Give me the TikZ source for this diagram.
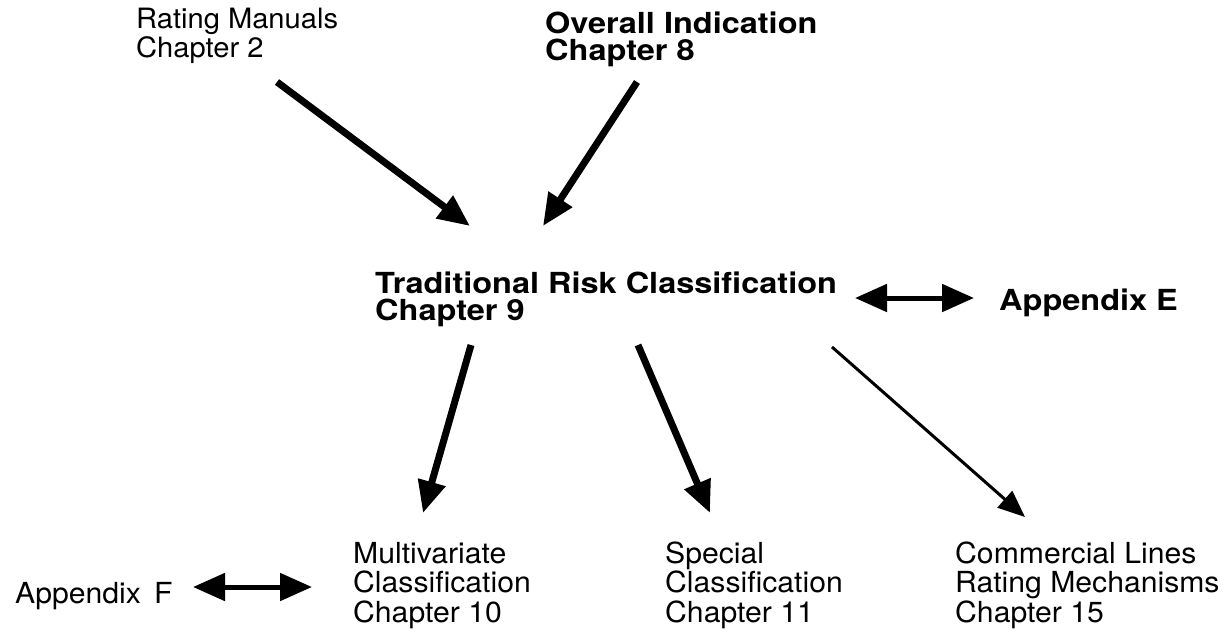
\documentclass[tikz,border=0pt]{standalone}
\usepackage{fontspec}
\setmainfont{TeX Gyre Heros}[FakeStretch=1.04, BoldFeatures={FakeStretch=1.12}]
\usetikzlibrary{arrows.meta}
\usetikzlibrary{positioning}

\tikzset{
  chapter/.style={anchor=base west, inner sep=0pt, align=left, font=\fontsize{29}{29.5}\selectfont},
  boldchapter/.style={chapter, font=\fontsize{29}{27}\selectfont\bfseries},
  fatarrow/.style={line width=7pt, -{Triangle[length=32pt, width=27pt]}},
  twoway/.style={line width=5pt, {Triangle[length=32pt, width=27pt]}-{Triangle[length=32pt, width=27pt]}},
  thinarrow/.style={line width=3pt, -{Triangle[length=27pt, width=22pt]}}
}

\begin{document}
\begin{tikzpicture}[x=1pt, y=1pt]
            \useasboundingbox (0,0) rectangle (1225,-633);
            \node[chapter, font=\fontsize{28}{26}\selectfont] (manuals) at ( 136, -57) {Rating Manuals\\Chapter 2};
            \node[boldchapter] (overall)   at ( 545, -60) {Overall Indication\\Chapter 8};
            \node[boldchapter] (trad)      at ( 375,-320) {Traditional Risk Classification\\Chapter 9};
            \node[boldchapter] (appE)      at ( 999,-310) {Appendix E};
            \node[chapter]     (appF)      at (  15,-603) {Appendix\, F};
            \node[chapter]     (multi)     at ( 353,-622) {Multivariate\\Classification\\Chapter 10};
            \node[chapter]     (special)   at ( 665,-622) {Special\\Classification\\Chapter 11};
            \node[chapter]     (commerce)  at ( 955,-622) {Commercial Lines\\Rating Mechanisms\\Chapter 15};

            \coordinate (manuals-out)  at ( 277, -82);
            \coordinate (overall-out)  at ( 637, -82);
            \coordinate (trad-in-l)    at ( 470,-226);
            \coordinate (trad-in-r)    at ( 543,-226);
            \coordinate (trad-right)   at ( 855,-298);
            \coordinate (appE-left)    at ( 974,-298);
            \coordinate (trad-out-1)   at ( 471,-345);
            \coordinate (trad-out-2)   at ( 638,-345);
            \coordinate (trad-out-3)   at ( 832,-347);
            \coordinate (multi-in)     at ( 423,-513);
            \coordinate (special-in)   at ( 710,-513);
            \coordinate (commerce-in)  at (1025,-517);
            \coordinate (appF-right)   at ( 193,-587);
            \coordinate (multi-left)   at ( 312,-587);

            \draw[fatarrow]  (manuals-out) -- (trad-in-l);
            \draw[fatarrow]  (overall-out) -- (trad-in-r);
            \draw[twoway]    (trad-right)  -- (appE-left);
            \draw[fatarrow]  (trad-out-1)  -- (multi-in);
            \draw[fatarrow]  (trad-out-2)  -- (special-in);
            \draw[thinarrow] (trad-out-3)  -- (commerce-in);
            \draw[twoway]    (appF-right)  -- (multi-left);
        \end{tikzpicture}
\end{document}
